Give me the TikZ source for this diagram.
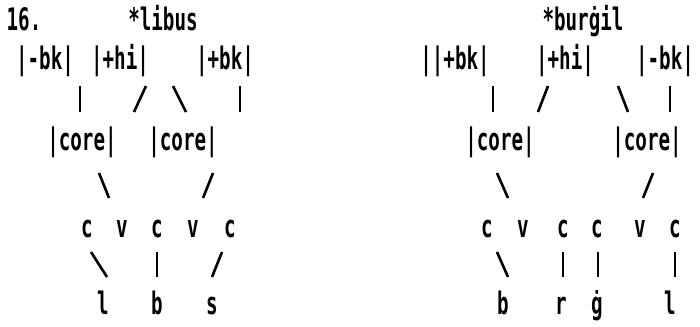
\documentclass[tikz,border=0pt]{standalone}
\usepackage{fontspec}
\newfontfamily\tw[FakeStretch=0.62]{DejaVu Sans Mono}
\begin{document}
\begin{tikzpicture}[x=1pt,y=-1pt,
  lbl/.style={inner sep=0pt, anchor=base, font=\tw\bfseries\fontsize{31}{33}\selectfont},
  conn/.style={line width=2.6pt}]
\useasboundingbox (0,0) rectangle (700,326);
% ---------- left tree ----------
\node[lbl] (num) at (24,31) {16.};
\node[lbl] (Ltitle) at (163,31) {*libus};
\node[lbl] (Lbk1) at (45,70) {|-bk|};
\node[lbl] (Lhi) at (120,70) {|+hi|};
\node[lbl] (Lbk2) at (225,70) {|+bk|};
\node[lbl] (Lcore1) at (82,150) {|core|};
\node[lbl] (Lcore2) at (183,150) {|core|};
\node[lbl] (Lc1) at (87,237) {c};
\node[lbl] (Lv1) at (122,237) {v};
\node[lbl] (Lc2) at (157,237) {c};
\node[lbl] (Lv2) at (193,237) {v};
\node[lbl] (Lc3) at (230,237) {c};
\node[lbl] (Ll) at (103,314) {l};
\node[lbl] (Lb) at (157,314) {b};
\node[lbl] (Ls) at (212,314) {s};
% connectors
\coordinate (la1) at (80,86);  \coordinate (la2) at (80,112);
\coordinate (lb1) at (146,86); \coordinate (lb2) at (134,112);
\coordinate (lc1) at (173,86); \coordinate (lc2) at (186,112);
\coordinate (ld1) at (240,86); \coordinate (ld2) at (240,112);
\coordinate (le1) at (99,173); \coordinate (le2) at (109,198);
\coordinate (lf1) at (213,173);\coordinate (lf2) at (203,198);
\coordinate (lg1) at (91,252); \coordinate (lg2) at (107,277);
\coordinate (lh1) at (157,252);\coordinate (lh2) at (157,277);
\coordinate (li1) at (222,252);\coordinate (li2) at (212,277);
\foreach \p in {la,lb,lc,ld,le,lf,lg,lh,li} \draw[conn] (\p1) -- (\p2);
% ---------- right tree ----------
\node[lbl] (Rtitle) at (583,31) {*burġil};
\node[lbl] (Rbk1) at (455,70) {||+bk|};
\node[lbl] (Rhi) at (565,70) {|+hi|};
\node[lbl] (Rbk2) at (665,70) {|-bk|};
\node[lbl] (Rcore1) at (500,150) {|core|};
\node[lbl] (Rcore2) at (647,150) {|core|};
\node[lbl] (Rc1) at (487,237) {c};
\node[lbl] (Rv1) at (523,237) {v};
\node[lbl] (Rc2) at (563,237) {c};
\node[lbl] (Rc3) at (597,237) {c};
\node[lbl] (Rv2) at (640,237) {v};
\node[lbl] (Rc4) at (675,237) {c};
\node[lbl] (Rb) at (503,314) {b};
\node[lbl] (Rr) at (561,314) {r};
\node[lbl] (Rg) at (597,314) {ġ};
\node[lbl] (Rl) at (670,314) {l};
\coordinate (ra1) at (493,86); \coordinate (ra2) at (493,112);
\coordinate (rb1) at (548,86); \coordinate (rb2) at (538,112);
\coordinate (rc1) at (618,86); \coordinate (rc2) at (628,112);
\coordinate (rd1) at (670,86); \coordinate (rd2) at (670,112);
\coordinate (re1) at (497,173);\coordinate (re2) at (508,198);
\coordinate (rf1) at (653,173);\coordinate (rf2) at (643,198);
\coordinate (rg1) at (497,252);\coordinate (rg2) at (508,277);
\coordinate (rh1) at (563,252);\coordinate (rh2) at (563,277);
\coordinate (ri1) at (598,252);\coordinate (ri2) at (598,277);
\coordinate (rj1) at (675,252);\coordinate (rj2) at (675,277);
\foreach \p in {ra,rb,rc,rd,re,rf,rg,rh,ri,rj} \draw[conn] (\p1) -- (\p2);
\end{tikzpicture}
\end{document}
